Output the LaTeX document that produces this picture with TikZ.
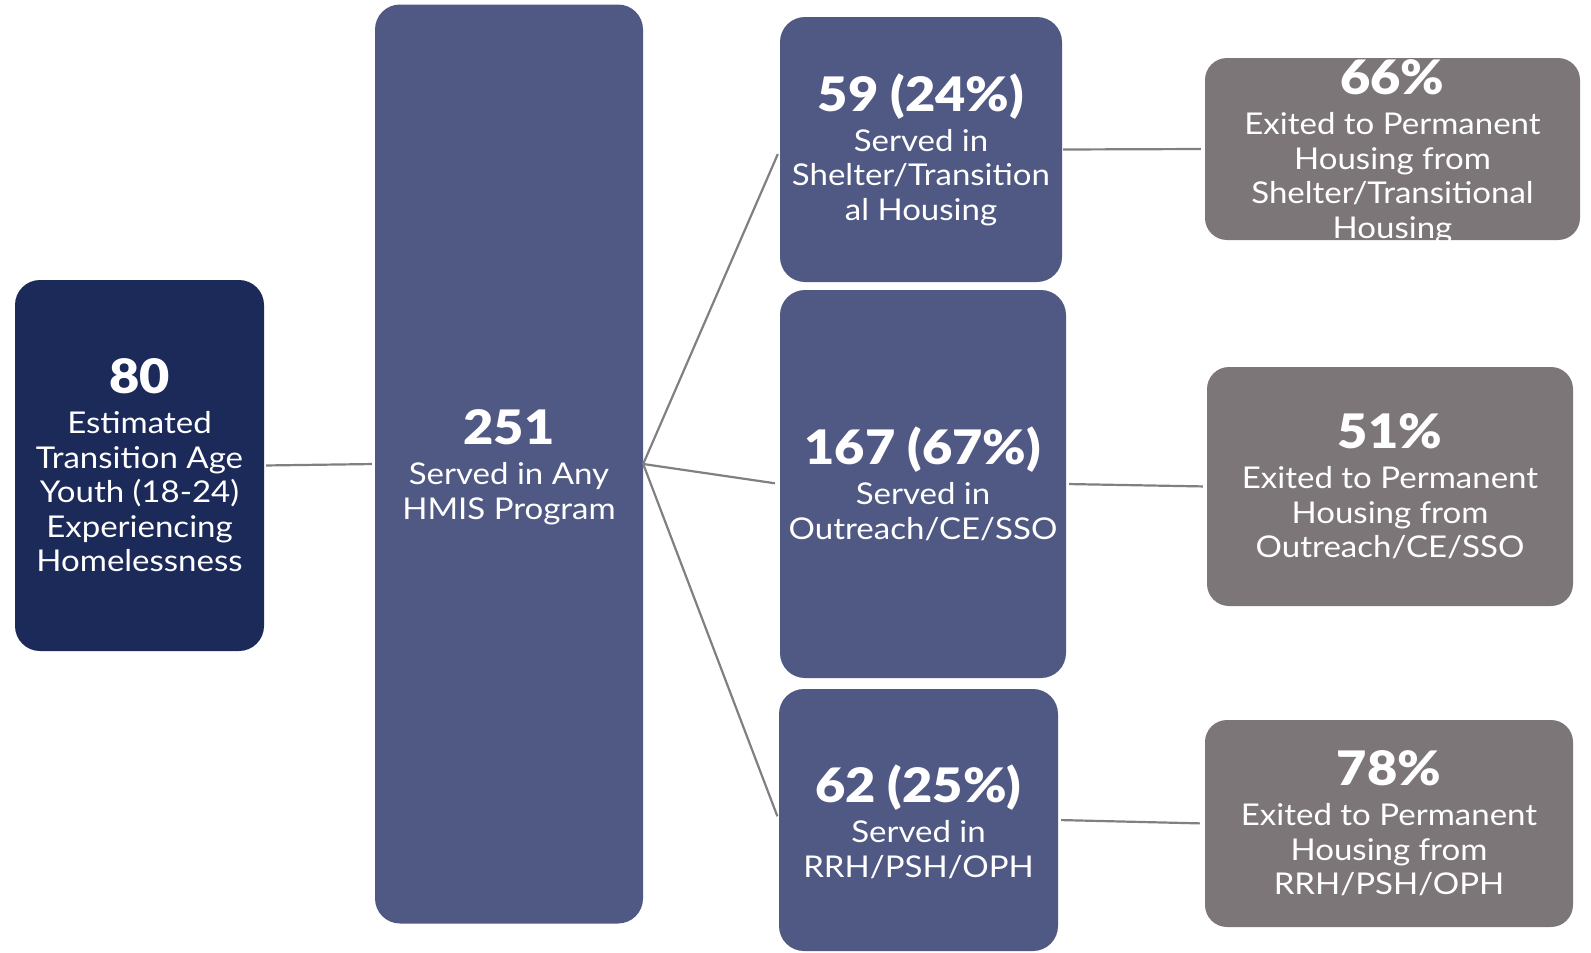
\documentclass[tikz,border=0pt]{standalone}
\usepackage{fontspec}
\setmainfont{Lato}[FakeStretch=1.1, BoldFont={Lato Black}]
\definecolor{navy}{RGB}{28,42,90}
\definecolor{slate}{RGB}{80,88,132}
\definecolor{taupe}{RGB}{125,118,120}
\definecolor{linkgray}{RGB}{128,128,128}
\newcommand\bignum{\fontsize{47.5}{34.5}\selectfont\bfseries}
\tikzset{
  card/.style={rectangle, rounded corners=25pt, inner sep=0pt, draw=none},
  darkcard/.style={card, fill=navy},
  bluecard/.style={card, fill=slate},
  greycard/.style={card, fill=taupe, rounded corners=22pt},
  txt/.style={text=white, align=center, inner sep=0pt, font=\fontsize{30}{34.5}\selectfont},
  link/.style={draw=linkgray, line width=2.2pt}
}
\begin{document}
\begin{tikzpicture}[x=1pt,y=-1pt]
\useasboundingbox (0,0) rectangle (1591,953);
% boxes
\node[darkcard, minimum width=249pt, minimum height=371pt] (dark) at (139.5,465.5) {};
\node[bluecard, minimum width=268pt, minimum height=919pt] (big) at (509,464) {};
\node[bluecard, minimum width=282pt, minimum height=265pt] (b1) at (921,149.5) {};
\node[bluecard, minimum width=286pt, minimum height=388pt] (b2) at (923,484) {};
\node[bluecard, minimum width=279pt, minimum height=262pt] (b3) at (918.5,820) {};
\node[greycard, minimum width=375pt, minimum height=182pt] (g1) at (1392.5,149) {};
\node[greycard, minimum width=366pt, minimum height=239pt] (g2) at (1390,486.5) {};
\node[greycard, minimum width=368pt, minimum height=207pt] (g3) at (1389,823.5) {};
% connectors
\draw[link, shorten <=2pt, shorten >=3pt] (dark.east) -- (big.west);
\draw[link, shorten >=5pt] (big.east) -- (b1.west);
\draw[link, shorten >=5pt] (big.east) -- (b2.west);
\draw[link, shorten >=4pt] (big.east) -- (b3.west);
\draw[link, shorten <=1pt, shorten >=4pt] (b1.east) -- (g1.west);
\draw[link, shorten <=3pt, shorten >=4pt] (b2.east) -- (g2.west);
\draw[link, shorten <=3pt, shorten >=5pt] (b3.east) -- (g3.west);
% texts
\node[txt] (t0) at (dark.center) {{\bignum 80}\\[5.5pt]Estimated\\Transition Age\\Youth (18-24)\\Experiencing\\Homelessness};
\node[txt] (tbig) at (509,467) {{\bignum 251}\\[5.5pt]Served in Any\\HMIS Program};
\node[txt] (t1) at (b1.center) {{\bignum 59 (24\%)}\\[5.5pt]Served in\\Shelter/Transition\\al Housing};
\node[txt] (t2) at (b2.center) {{\bignum 167 (67\%)}\\[5.5pt]Served in\\Outreach/CE/SSO};
\node[txt] (t3) at (918.5,822) {{\bignum 62 (25\%)}\\[5.5pt]Served in\\RRH/PSH/OPH};
\node[txt] (tg1) at (1392.5,152) {{\bignum 66\%}\\[5.5pt]Exited to Permanent\\Housing from\\Shelter/Transitional\\Housing};
\node[txt] (tg2) at (g2.center) {{\bignum 51\%}\\[5.5pt]Exited to Permanent\\Housing from\\Outreach/CE/SSO};
\node[txt] (tg3) at (g3.center) {{\bignum 78\%}\\[5.5pt]Exited to Permanent\\Housing from\\RRH/PSH/OPH};
\end{tikzpicture}
\end{document}
